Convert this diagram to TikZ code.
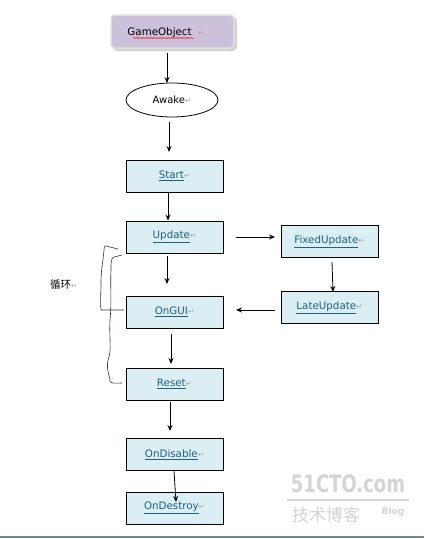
\documentclass[tikz,border=0pt]{standalone}
\usepackage{fontspec}
\setmainfont{DejaVu Sans}
\newfontfamily\dejavu{DejaVu Sans}
\newfontfamily\cjkfont{Noto Sans CJK SC}
\usetikzlibrary{arrows.meta,shapes.geometric,decorations.pathmorphing}
\definecolor{boxblue}{HTML}{DAEEF3}
\definecolor{boxpurple}{HTML}{CCC0DA}
\definecolor{linkblue}{HTML}{1F5F7F}
\definecolor{wm}{HTML}{D4D4D4}
\newcommand{\ret}{{\dejavu\color{gray!70}\fontsize{7.5}{7.5}\selectfont ↵}}
\newcommand{\lnk}[1]{{\color{linkblue}\underline{#1}}\ret}
\begin{document}
\begin{tikzpicture}[x=1pt,y=-1pt,
  stagebox/.style={draw=black,line width=0.9pt,fill=boxblue,minimum width=97pt,minimum height=32pt,inner sep=0pt,font=\fontsize{10.3}{12}\selectfont},
  arr/.style={-{Stealth[length=6pt,width=5pt]},line width=0.8pt,black}]
\useasboundingbox (0,0) rectangle (424,539);
\fill[white] (0,0) rectangle (424,539);
% GameObject
\fill[gray!35,rounded corners=4pt] (113,17) rectangle (237,51);
\node[draw=gray!25,line width=1.5pt,fill=boxpurple,rounded corners=4pt,minimum width=123pt,minimum height=33pt,inner sep=0pt] (go) at (172.5,31.5) {};
\node[font=\fontsize{10.3}{12}\selectfont,inner sep=0pt,anchor=base] (gotext) at (166,35) {GameObject\ \ \ret};
\draw[red,line width=0.4pt,decorate,decoration={snake,amplitude=0.6pt,segment length=2.5pt}] (133,38) -- (194,38);
% Awake
\node[draw=black,line width=0.8pt,fill=white,ellipse,minimum width=92pt,minimum height=34pt,inner sep=0pt,font=\fontsize{10}{12}\selectfont] (awake) at (172,100) {Awake\ret};
% stages
\node[stagebox] (start) at (174.5,176) {\lnk{Start}};
\node[stagebox] (update) at (174.5,237) {\lnk{Update}};
\node[stagebox] (ongui) at (174.5,312) {\lnk{OnGUI}};
\node[stagebox] (reset) at (174.5,384) {\lnk{Reset}};
\node[stagebox] (ondisable) at (174.5,454.5) {\lnk{OnDisable}};
\node[stagebox] (ondestroy) at (174.5,508) {\lnk{OnDestroy}};
\node[stagebox] (fixed) at (329.5,241.5) {\lnk{FixedUpdate}};
\node[stagebox] (late) at (329.5,307.5) {\lnk{LateUpdate}};
% arrows
\coordinate (a1s) at (167,53); \coordinate (a1e) at (167,83);
\draw[arr] (a1s) -- (a1e);
\coordinate (a2s) at (169,122); \coordinate (a2e) at (169,152);
\draw[arr] (a2s) -- (a2e);
\draw[arr] (start.south -| 168,0) -- (update.north -| 168,0);
\coordinate (a4s) at (167,256); \coordinate (a4e) at (167,284);
\draw[arr] (a4s) -- (a4e);
\coordinate (a5s) at (236,237); \coordinate (a5e) at (275,237);
\draw[arr] (a5s) -- (a5e);
\coordinate (a6s) at (332,262); \coordinate (a6e) at (333,292);
\draw[arr] (a6s) -- (a6e);
\coordinate (a7s) at (275,310); \coordinate (a7e) at (236,310);
\draw[arr] (a7s) -- (a7e);
\coordinate (a8s) at (171,334); \coordinate (a8e) at (171,364);
\draw[arr] (a8s) -- (a8e);
\coordinate (a9s) at (170,402); \coordinate (a9e) at (170,431);
\draw[arr] (a9s) -- (a9e);
\coordinate (a10s) at (174,471); \coordinate (a10e) at (176,502);
\draw[arr] (a10s) -- (a10e);
% hand drawn brace
\draw[line width=0.6pt,black!80,line join=round] (118,249) -- (110,247) .. controls (106,246) and (104,244) .. (104,250)
  .. controls (103,262) and (101,270) .. (101,282) .. controls (101,295) and (100,300) .. (101,310) -- (124,310);
\draw[line width=0.6pt,black!80,line join=round] (122,255) -- (114,257) .. controls (111,258) and (111,262) .. (111,270)
  .. controls (110,285) and (112,300) .. (110,320) .. controls (109,340) and (112,350) .. (108,360)
  .. controls (106,370) and (110,376) .. (110,381) .. controls (111,384) and (115,383) .. (122,383);
\node[font=\cjkfont\fontsize{10.5}{12}\selectfont,inner sep=0pt,anchor=west] (loop) at (50,285) {循环\ret};
% watermark
\node[font=\bfseries\fontsize{24}{26}\selectfont,text=wm,inner sep=0pt,xscale=0.75] (wm1) at (348,484) {51CTO.com};
\draw[wm,line width=1.2pt] (287,500) -- (409,500);
\node[font=\cjkfont\fontsize{17}{19}\selectfont,text=wm,inner sep=0pt] (wm2) at (326,515) {技术博客};
\node[font=\bfseries\fontsize{9}{10}\selectfont,text=wm,inner sep=0pt] (wm3) at (393,512) {Blog};
% bottom line
\draw[color={rgb,255:red,110;green,138;blue,138},line width=1.5pt] (0,537) -- (424,537);
\end{tikzpicture}
\end{document}
